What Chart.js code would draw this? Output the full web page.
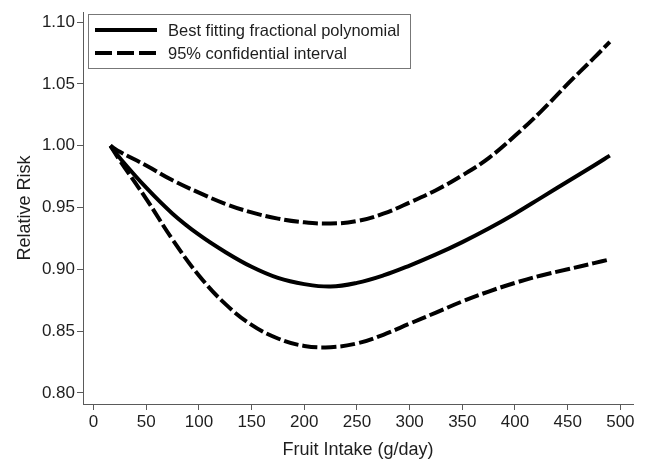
<!DOCTYPE html>
<html>
<head>
<meta charset="utf-8">
<script src="https://cdn.jsdelivr.net/npm/chart.js@4.4.0/dist/chart.umd.min.js"></script>
<style>
  html, body { margin: 0; padding: 0; background: #fff; }
  #wrap { width: 646px; height: 461px; }
</style>
</head>
<body>
<div id="wrap"><canvas id="chart" width="646" height="461"></canvas></div>
<script>
// values
const fruitIntake = [16, 25, 50, 75, 100, 125, 150, 175, 200, 225, 250, 275, 300, 325, 350, 375, 400, 425, 450, 475, 490];
const bestFit = [1.000, 0.990, 0.966, 0.945, 0.928, 0.914, 0.902, 0.893, 0.888, 0.886, 0.889, 0.895, 0.903, 0.912, 0.922, 0.933, 0.945, 0.958, 0.971, 0.984, 0.992];
const upperCI = [1.000, 0.995, 0.984, 0.972, 0.962, 0.953, 0.946, 0.941, 0.938, 0.937, 0.939, 0.945, 0.954, 0.964, 0.976, 0.990, 1.008, 1.028, 1.050, 1.071, 1.084];
const lowerCI = [1.000, 0.988, 0.957, 0.924, 0.895, 0.872, 0.855, 0.844, 0.838, 0.837, 0.840, 0.847, 0.856, 0.865, 0.874, 0.882, 0.889, 0.895, 0.900, 0.905, 0.908];
const xTicks = [0, 50, 100, 150, 200, 250, 300, 350, 400, 450, 500];
const yTicks = [0.80, 0.85, 0.90, 0.95, 1.00, 1.05, 1.10];

const FONT = "'Liberation Sans', Arial, Helvetica, sans-serif";
const TEXT = "#1e1e1e";
const AXIS = "#5a5a5a";

function pts(ys) {
  return fruitIntake.map((x, i) => ({ x: x, y: ys[i] }));
}

// legend drawn as a boxed panel inside the plot, like the original
const boxLegend = {
  id: "boxLegend",
  afterDraw(chart) {
    const ctx = chart.ctx;
    const items = [
      { text: "Best fitting fractional polynomial", dash: [] },
      { text: "95% confidential interval", dash: [17, 5] }
    ];
    ctx.save();
    ctx.strokeStyle = "#777";
    ctx.lineWidth = 1;
    ctx.strokeRect(88.5, 14.5, 322, 54);
    items.forEach((it, i) => {
      const y = 30 + i * 23;
      ctx.beginPath();
      ctx.setLineDash(it.dash);
      ctx.lineWidth = 4;
      ctx.strokeStyle = "#000";
      ctx.moveTo(95, y);
      ctx.lineTo(157, y);
      ctx.stroke();
      ctx.setLineDash([]);
      ctx.fillStyle = TEXT;
      ctx.font = "16.5px " + FONT;
      ctx.textBaseline = "middle";
      ctx.fillText(it.text, 168, y + 1);
    });
    ctx.restore();
  }
};

const lineStyle = {
  borderColor: "#000",
  borderWidth: 4,
  pointRadius: 0,
  fill: false,
  tension: 0.4,
  borderCapStyle: "butt"
};

new Chart(document.getElementById("chart").getContext("2d"), {
  type: "line",
  data: {
    datasets: [
      Object.assign({ label: "Best fitting fractional polynomial", data: pts(bestFit) }, lineStyle),
      Object.assign({ label: "95% confidential interval", data: pts(upperCI), borderDash: [15, 4] }, lineStyle),
      Object.assign({ label: "95% CI lower", data: pts(lowerCI), borderDash: [15, 4] }, lineStyle)
    ]
  },
  options: {
    responsive: false,
    animation: false,
    layout: { padding: { left: 14, right: 13, top: 10, bottom: 0 } },
    plugins: {
      legend: { display: false },
      tooltip: { enabled: false }
    },
    scales: {
      x: {
        type: "linear",
        min: -10,
        max: 512,
        afterBuildTicks: s => { s.ticks = xTicks.map(v => ({ value: v })); },
        afterFit: s => { s.height = 57; },
        grid: { drawOnChartArea: false, drawTicks: true, tickLength: 6, color: AXIS },
        border: { display: true, color: AXIS, width: 1 },
        ticks: { color: TEXT, font: { family: FONT, size: 17 }, padding: 2, maxRotation: 0 },
        title: { display: true, text: "Fruit Intake (g/day)", color: TEXT, font: { family: FONT, size: 18 }, padding: { top: 4, bottom: 0 } }
      },
      y: {
        type: "linear",
        min: 0.791,
        max: 1.108,
        afterBuildTicks: s => { s.ticks = yTicks.map(v => ({ value: v })); },
        afterFit: s => { s.width = 69; },
        grid: { drawOnChartArea: false, drawTicks: true, tickLength: 6, color: AXIS },
        border: { display: true, color: AXIS, width: 1 },
        ticks: { color: TEXT, font: { family: FONT, size: 17 }, padding: 2, callback: v => Number(v).toFixed(2) },
        title: { display: true, text: "Relative Risk", color: TEXT, font: { family: FONT, size: 18 }, padding: { top: 0, bottom: 4 } }
      }
    }
  },
  plugins: [boxLegend]
});
</script>
</body>
</html>
